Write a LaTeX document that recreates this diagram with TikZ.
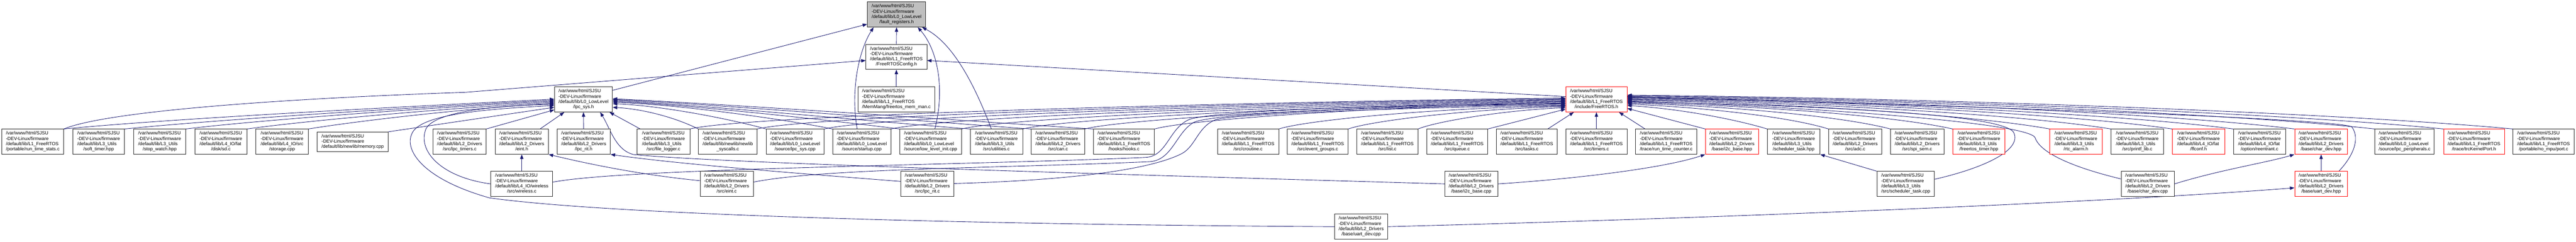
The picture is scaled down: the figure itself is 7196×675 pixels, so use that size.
\documentclass[tikz,border=0pt]{standalone}
\usepackage{fontspec}
\setmainfont{Liberation Sans}
\usetikzlibrary{arrows.meta,calc}
\definecolor{edgeblue}{HTML}{191970}
\definecolor{nodegray}{HTML}{BFBFBF}
\definecolor{nodered}{HTML}{FF0000}
\newcommand\mylbl[2]{\begin{tabular}{@{}l@{}}/var/www/html/SJSU\\-DEV-Linux/firmware\\#1\\\multicolumn{1}{@{}c@{}}{#2}\end{tabular}}
\newcommand\mynode[6]{\node[#1,minimum width=#5*0.75pt] (#2) at (#3,#4) {#6};}
\pgfdeclarelayer{bg}
\pgfsetlayers{bg,main}
\begin{document}
\begin{tikzpicture}[x=0.75pt,y=-0.75pt,
 box/.style={draw=black!85,line width=0.9pt,fill=white,inner sep=0pt,minimum height=52.5pt,font=\fontsize{9.75}{11}\selectfont},
 redbox/.style={box,draw=nodered},
 graybox/.style={box,fill=nodegray},
 edge/.style={draw=edgeblue,line width=0.95pt,-{Triangle[length=9.5pt,width=7pt]}}]
\useasboundingbox (0,0) rectangle (7196,675);
% row 1-3
\mynode{graybox}{F}{2504.5}{40.5}{163}{\mylbl{/default/lib/L0\_LowLevel}{/fault\_registers.h}}
\mynode{box}{C}{2504}{159}{170}{\mylbl{/default/lib/L1\_FreeRTOS}{/FreeRTOSConfig.h}}
\mynode{box}{S}{1630}{278}{162}{\mylbl{/default/lib/L0\_LowLevel}{/lpc\_sys.h}}
\mynode{box}{M}{2504}{278}{214}{\mylbl{/default/lib/L1\_FreeRTOS}{/MemMang/freertos\_mem\_man.c}}
\mynode{redbox}{R}{4459.5}{278}{171}{\mylbl{/default/lib/L1\_FreeRTOS}{/include/FreeRTOS.h}}
% row 4
\mynode{box}{rts}{91.5}{396}{173}{\mylbl{/default/lib/L1\_FreeRTOS}{/portable/run\_time\_stats.c}}
\mynode{box}{stimer}{275.5}{396}{145}{\mylbl{/default/lib/L3\_Utils}{/soft\_timer.hpp}}
\mynode{box}{swatch}{446}{396}{146}{\mylbl{/default/lib/L3\_Utils}{/stop\_watch.hpp}}
\mynode{box}{sd}{617}{396}{146}{\mylbl{/default/lib/L4\_IO/fat}{/disk/sd.c}}
\mynode{box}{storage}{788}{396}{146}{\mylbl{/default/lib/L4\_IO/src}{/storage.cpp}}
\node[box,minimum width=198*0.75pt,minimum height=41.25pt] (memory) at (985,396.5) {\begin{tabular}{@{}l@{}}/var/www/html/SJSU\\-DEV-Linux/firmware\\/default/lib/newlib/memory.cpp\end{tabular}};
\mynode{box}{timersc}{1284}{396}{148}{\mylbl{/default/lib/L2\_Drivers}{/src/lpc\_timers.c}}
\mynode{box}{einth}{1457.5}{396}{149}{\mylbl{/default/lib/L2\_Drivers}{/eint.h}}
\mynode{box}{rith}{1630.5}{396}{149}{\mylbl{/default/lib/L2\_Drivers}{/lpc\_rit.h}}
\mynode{box}{flog}{1853.5}{396}{147}{\mylbl{/default/lib/L3\_Utils}{/src/file\_logger.c}}
\mynode{box}{sysc}{2033}{396}{164}{\mylbl{/default/lib/newlib/newlib}{\_syscalls.c}}
\mynode{box}{lsyscpp}{2221}{396}{162}{\mylbl{/default/lib/L0\_LowLevel}{/source/lpc\_sys.cpp}}
\mynode{box}{startup}{2407.5}{396}{163}{\mylbl{/default/lib/L0\_LowLevel}{/source/startup.cpp}}
\mynode{box}{llinit}{2599.5}{396}{173}{\mylbl{/default/lib/L0\_LowLevel}{/source/low\_level\_init.cpp}}
\mynode{box}{util}{2783.5}{396}{147}{\mylbl{/default/lib/L3\_Utils}{/src/utilities.c}}
\mynode{box}{can}{2955.5}{396}{149}{\mylbl{/default/lib/L2\_Drivers}{/src/can.c}}
\mynode{box}{hooks}{3139.5}{396}{171}{\mylbl{/default/lib/L1\_FreeRTOS}{/hooks/hooks.c}}
\mynode{box}{crout}{3486.5}{396}{171}{\mylbl{/default/lib/L1\_FreeRTOS}{/src/croutine.c}}
\mynode{box}{evg}{3681}{396}{170}{\mylbl{/default/lib/L1\_FreeRTOS}{/src/event\_groups.c}}
\mynode{box}{list}{3875.5}{396}{171}{\mylbl{/default/lib/L1\_FreeRTOS}{/src/list.c}}
\mynode{box}{queue}{4070.5}{396}{171}{\mylbl{/default/lib/L1\_FreeRTOS}{/src/queue.c}}
\mynode{box}{tasks}{4265}{396}{170}{\mylbl{/default/lib/L1\_FreeRTOS}{/src/tasks.c}}
\mynode{box}{timers}{4459.5}{396}{171}{\mylbl{/default/lib/L1\_FreeRTOS}{/src/timers.c}}
\mynode{box}{rtc}{4654.5}{396}{171}{\mylbl{/default/lib/L1\_FreeRTOS}{/trace/run\_time\_counter.c}}
\mynode{redbox}{i2chpp}{4838}{396}{148}{\mylbl{/default/lib/L2\_Drivers}{/base/i2c\_base.hpp}}
\mynode{box}{schhpp}{5010.5}{396}{147}{\mylbl{/default/lib/L3\_Utils}{/scheduler\_task.hpp}}
\mynode{box}{adc}{5182.5}{396}{149}{\mylbl{/default/lib/L2\_Drivers}{/src/adc.c}}
\mynode{box}{spi}{5355.5}{396}{149}{\mylbl{/default/lib/L2\_Drivers}{/src/spi\_sem.c}}
\mynode{redbox}{frtimer}{5528}{396}{146}{\mylbl{/default/lib/L3\_Utils}{/freertos\_timer.hpp}}
\mynode{redbox}{rtcal}{5799}{396}{146}{\mylbl{/default/lib/L3\_Utils}{/rtc\_alarm.h}}
\mynode{box}{printf}{5970.5}{396}{147}{\mylbl{/default/lib/L3\_Utils}{/src/printf\_lib.c}}
\mynode{redbox}{ffconf}{6141.5}{396}{147}{\mylbl{/default/lib/L4\_IO/fat}{/ffconf.h}}
\mynode{box}{reent}{6312}{396}{146}{\mylbl{/default/lib/L4\_IO/fat}{/option/reentrant.c}}
\mynode{redbox}{chhpp}{6484}{396}{148}{\mylbl{/default/lib/L2\_Drivers}{/base/char\_dev.hpp}}
\mynode{box}{lpcper}{6717}{396}{166}{\mylbl{/default/lib/L0\_LowLevel}{/source/lpc\_peripherals.c}}
\mynode{redbox}{trc}{6911}{396}{170}{\mylbl{/default/lib/L1\_FreeRTOS}{/trace/trcKernelPort.h}}
\mynode{box}{port}{7105.5}{396}{171}{\mylbl{/default/lib/L1\_FreeRTOS}{/portable/no\_mpu/port.c}}
% row 5
\mynode{box}{wireless}{1457.5}{514}{173}{\mylbl{/default/lib/L4\_IO/wireless}{/src/wireless.c}}
\mynode{box}{eintc}{2030}{514}{148}{\mylbl{/default/lib/L2\_Drivers}{/src/eint.c}}
\mynode{box}{ritc}{2590.5}{514}{149}{\mylbl{/default/lib/L2\_Drivers}{/src/lpc\_rit.c}}
\mynode{box}{i2ccpp}{4110}{514}{148}{\mylbl{/default/lib/L2\_Drivers}{/base/i2c\_base.cpp}}
\mynode{box}{schcpp}{5323.5}{514}{161}{\mylbl{/default/lib/L3\_Utils}{/src/scheduler\_task.cpp}}
\mynode{box}{chcpp}{5999.5}{514}{149}{\mylbl{/default/lib/L2\_Drivers}{/base/char\_dev.cpp}}
\mynode{redbox}{uarthpp}{6484}{514}{148}{\mylbl{/default/lib/L2\_Drivers}{/base/uart\_dev.hpp}}
% row 6
\mynode{box}{uartcpp}{3802.5}{633.5}{149}{\mylbl{/default/lib/L2\_Drivers}{/base/uart\_dev.cpp}}

\begin{pgfonlayer}{bg}
\fill[white] (0,0) rectangle (7196,675);
% into fault_registers.h
\draw[edge] ($(S.north east)+(0,10)$) -- ($(F.west)+(0,27)$);
\draw[edge] (C.north) -- (F.south);
\draw[edge] ($(startup.north)+(-13,0)$) .. controls (2375,250) and (2400,140) .. ($(F.south west)+(18,0)$);
\draw[edge] ($(llinit.north west)+(99,0)$) .. controls (2640,250) and (2620,140) .. ($(F.south east)+(-23,0)$);
\draw[edge] ($(util.north west)+(60,0)$) .. controls (2720,230) and (2660,120) .. ($(F.south east)+(-11,0)$);
% into FreeRTOSConfig.h
\draw[edge] (M.north) -- (C.south);
\draw[edge] ($(R.west)+(0,-8)$) -- ($(C.east)+(0,10)$);
\draw[edge] (rts.north east) .. controls (300,310) and (800,275) .. (1300,258) -- ($(C.west)+(0,10)$);
% into lpc_sys.h (left)
\draw[edge] (rts.north east) .. controls (500,330) and (1100,300) .. ($(S.west)+(0,-1)$);
\draw[edge] (stimer.north east) .. controls (600,335) and (1150,300) .. ($(S.west)+(0,2)$);
\draw[edge] (swatch.north east) .. controls (700,338) and (1200,300) .. ($(S.west)+(0,5)$);
\draw[edge] (sd.north east) .. controls (850,338) and (1250,302) .. ($(S.west)+(0,8)$);
\draw[edge] (storage.north east) .. controls (1000,338) and (1300,303) .. ($(S.west)+(0,11)$);
\draw[edge] (memory.north east) -- ($(S.west)+(0,22)$);
\draw[edge] (timersc.north east) -- ($(S.west)+(0,29)$);
\draw[edge] ($(einth.north east)+(-24,0)$) -- ($(S.south west)+(28,0)$);
\draw[edge] (rith.north) -- (S.south);
\draw[edge] (wireless.west) .. controls (1230,495) and (1165,420) .. (1190,360) .. controls (1215,310) and (1400,294) .. ($(S.west)+(0,14)$);
\draw[edge] (uartcpp.west) .. controls (2700,628) and (1700,600) .. (1367,553) .. controls (1180,500) and (1130,420) .. (1150,375) .. controls (1170,320) and (1350,305) .. ($(S.west)+(0,17)$);
% into lpc_sys.h (right)
\draw[edge] ($(flog.north west)+(9,0)$) -- ($(S.south east)+(-9,0)$);
\draw[edge] (i2ccpp.west) .. controls (3000,484) and (2000,455) .. (1770,432) .. controls (1720,420) and (1705,360) .. ($(S.south east)+(-35,0)$);
\draw[edge] (sysc.north west) .. controls (1890,330) and (1800,305) .. ($(S.east)+(0,22)$);
\draw[edge] (lsyscpp.north west) .. controls (2050,335) and (1850,295) .. ($(S.east)+(0,12)$);
\draw[edge] (startup.north west) .. controls (2200,335) and (1900,292) .. ($(S.east)+(0,8)$);
\draw[edge] (llinit.north west) .. controls (2350,340) and (1950,295) .. ($(S.east)+(0,5)$);
\draw[edge] (util.north west) .. controls (2500,345) and (2000,297) .. ($(S.east)+(0,2)$);
\draw[edge] (can.north west) .. controls (2650,345) and (2050,295) .. ($(S.east)+(0,0)$);
\draw[edge] (hooks.north west) .. controls (2800,345) and (2100,295) .. ($(S.east)+(0,-2)$);
% into FreeRTOS.h (left)
\draw[edge] (flog.north east) .. controls (2100,320) and (3500,285) .. ($(R.west)+(0,-4)$);
\draw[edge] (sysc.north east) .. controls (2280,322) and (3550,286) .. ($(R.west)+(0,-2)$);
\draw[edge] (lsyscpp.north east) .. controls (2460,324) and (3600,288) .. ($(R.west)+(0,0)$);
\draw[edge] (startup.north east) .. controls (2640,326) and (3650,290) .. ($(R.west)+(0,2)$);
\draw[edge] (llinit.north east) .. controls (2820,328) and (3700,292) .. ($(R.west)+(0,4)$);
\draw[edge] (util.north east) .. controls (2980,330) and (3750,294) .. ($(R.west)+(0,6)$);
\draw[edge] (can.north east) .. controls (3140,332) and (3800,296) .. ($(R.west)+(0,8)$);
\draw[edge] (hooks.north east) .. controls (3320,334) and (3850,298) .. ($(R.west)+(0,10)$);
\draw[edge] ($(wireless.east)+(0,-5)$) .. controls (1750,470) and (2700,462) .. (3200,440) .. controls (3260,437) and (3265,360) .. (3320,335) .. controls (3370,310) and (3900,292) .. ($(R.west)+(0,12)$);
\draw[edge] ($(eintc.east)+(0,-5)$) .. controls (2300,470) and (2800,470) .. (3210,452) .. controls (3275,449) and (3285,370) .. (3335,342) .. controls (3390,315) and (3920,296) .. ($(R.west)+(0,14)$);
\draw[edge] ($(ritc.east)+(0,-1)$) .. controls (2950,505) and (3200,480) .. (3300,430) .. controls (3340,410) and (3345,355) .. (3395,335) .. controls (3440,318) and (3950,300) .. ($(R.west)+(0,16)$);
\draw[edge] (crout.north east) .. controls (3650,336) and (4000,302) .. ($(R.west)+(0,18)$);
\draw[edge] (evg.north east) .. controls (3830,338) and (4100,305) .. ($(R.west)+(0,20)$);
\draw[edge] (list.north east) .. controls (4010,340) and (4200,308) .. ($(R.west)+(0,23)$);
\draw[edge] (queue.north east) -- ($(R.west)+(0,27)$);
\draw[edge] ($(tasks.north east)+(-27,0)$) -- ($(R.south west)+(23,0)$);
\draw[edge] (timers.north) -- (R.south);
% into FreeRTOS.h (right)
\draw[edge] ($(rtc.north west)+(27,0)$) -- ($(R.south east)+(-23,0)$);
\draw[edge] (i2chpp.north west) -- ($(R.east)+(0,25)$);
\draw[edge] (schhpp.north west) .. controls (4839,331) and (4682,303) .. ($(R.east)+(0,17)$);
\draw[edge] (adc.north west) .. controls (4995,325) and (4742,299) .. ($(R.east)+(0,13)$);
\draw[edge] (spi.north west) .. controls (5134,322) and (4803,296) .. ($(R.east)+(0,10)$);
\draw[edge] (frtimer.north west) .. controls (5273,320) and (4864,294) .. ($(R.east)+(0,8)$);
\draw[edge] ($(schcpp.east)+(0,-13)$) .. controls (5540,470) and (5650,420) .. (5625,370) .. controls (5590,310) and (4900,292) .. ($(R.east)+(0,6)$);
\draw[edge] ($(chcpp.west)+(0,-14)$) .. controls (5800,470) and (5700,430) .. (5685,385) .. controls (5670,345) and (5100,300) .. ($(R.east)+(0,4)$);
\draw[edge] (rtcal.north west) .. controls (5490,318) and (4958,288) .. ($(R.east)+(0,2)$);
\draw[edge] (printf.north west) .. controls (5627,317) and (5018,286) .. ($(R.east)+(0,0)$);
\draw[edge] (ffconf.north west) .. controls (5763,316) and (5078,284) .. ($(R.east)+(0,-2)$);
\draw[edge] (reent.north west) .. controls (5900,316) and (5138,282) .. ($(R.east)+(0,-4)$);
\draw[edge] (chhpp.north west) .. controls (6037,315) and (5198,280) .. ($(R.east)+(0,-6)$);
\draw[edge] ($(uarthpp.north east)+(-25,0)$) .. controls (6570,440) and (6595,390) .. (6570,355) .. controls (6540,330) and (5300,290) .. ($(R.east)+(0,-7)$);
\draw[edge] (lpcper.north west) .. controls (6216,315) and (5276,278) .. ($(R.east)+(0,-8)$);
\draw[edge] (trc.north west) .. controls (6370,315) and (5343,276) .. ($(R.east)+(0,-10)$);
\draw[edge] (port.north west) .. controls (6525,315) and (5411,274) .. ($(R.east)+(0,-12)$);
% lower rows
\draw[edge] (wireless.north) -- (einth.south);
\draw[edge] ($(eintc.west)+(0,-9)$) .. controls (1800,490) and (1650,460) .. (einth.south east);
\draw[edge] ($(ritc.west)+(0,-7)$) .. controls (2300,490) and (1900,460) .. (rith.south east);
\draw[edge] (i2ccpp.east) .. controls (4400,500) and (4650,470) .. (i2chpp.south west);
\draw[edge] (schcpp.north west) -- (schhpp.south east);
\draw[edge] (chcpp.east) .. controls (6200,475) and (6330,455) .. (chhpp.south west);
\draw[edge] (uarthpp.north) -- (chhpp.south);
\draw[edge] (uartcpp.east) .. controls (4800,610) and (5900,565) .. ($(uarthpp.west)+(0,11)$);
\end{pgfonlayer}
\end{tikzpicture}
\end{document}
